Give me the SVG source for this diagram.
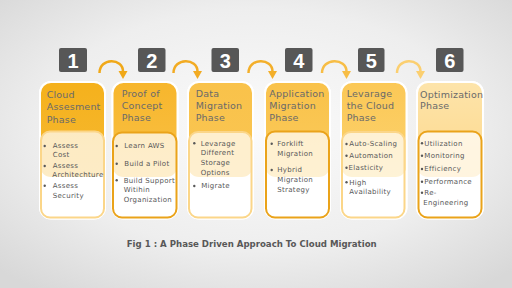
<svg xmlns="http://www.w3.org/2000/svg" width="512" height="288" viewBox="0 0 512 288">
<defs>
<radialGradient id="bg" cx="50%" cy="45%" r="70%">
<stop offset="0" stop-color="#fbfbfb"/>
<stop offset="0.6" stop-color="#eeeeee"/>
<stop offset="1" stop-color="#d8d8d8"/>
</radialGradient>
<linearGradient id="g1" x1="0" y1="0" x2="0" y2="1"><stop offset="0" stop-color="#f5b11c"/><stop offset="1" stop-color="#f6b932"/></linearGradient>
<linearGradient id="g2" x1="0" y1="0" x2="0" y2="1"><stop offset="0" stop-color="#f7b62c"/><stop offset="1" stop-color="#f9c146"/></linearGradient>
<linearGradient id="g3" x1="0" y1="0" x2="0" y2="1"><stop offset="0" stop-color="#f9c24a"/><stop offset="1" stop-color="#fac653"/></linearGradient>
<linearGradient id="g4" x1="0" y1="0" x2="0" y2="1"><stop offset="0" stop-color="#f9c24a"/><stop offset="1" stop-color="#fbcb5c"/></linearGradient>
<linearGradient id="g5" x1="0" y1="0" x2="0" y2="1"><stop offset="0" stop-color="#fbc856"/><stop offset="1" stop-color="#fcd26e"/></linearGradient>
<linearGradient id="g6" x1="0" y1="0" x2="0" y2="1"><stop offset="0" stop-color="#fde4aa"/><stop offset="1" stop-color="#fdd88c"/></linearGradient>
</defs>
<style>
.num{fill:#575757}
.numt{font-family:"Liberation Sans",Arial,sans-serif;font-weight:bold;font-size:20px;fill:#ffffff;text-anchor:middle}
.card{fill:#ffffff;stroke:#ffffff;stroke-width:2}
.edge{fill:none;stroke:#ffffff;stroke-width:2}
.inL{fill:#ffffff;fill-opacity:0.72;stroke:#fbd689;stroke-width:2}
.inD{fill:#ffffff;fill-opacity:0.72;stroke:#eaa31a;stroke-width:2}
.ttl{font-family:"DejaVu Sans","Liberation Sans",sans-serif;font-size:9.5px;letter-spacing:0.2px;fill:#6a6a6a}
.bl{font-family:"DejaVu Sans","Liberation Sans",sans-serif;font-size:7px;letter-spacing:0.3px;fill:#585858}
.dot{fill:#585858}
.arr{fill:none;stroke-width:2.5}
.cap{font-family:"DejaVu Sans","Liberation Sans",sans-serif;font-weight:bold;font-size:9.5px;fill:#585858}
</style>
<rect width="512" height="288" fill="url(#bg)"/>

<g id="connectors">
<path class="arr" stroke="#f0a818" d="M99.5 73 C99.5 57.5 123 57.5 123 71.5"/>
<polygon fill="#f0a818" points="118.5,71 127.5,71 123,79"/>
<path class="arr" stroke="#f2ab22" d="M173.5 73 C173.5 57.5 197.5 57.5 197.5 71.5"/>
<polygon fill="#f2ab22" points="193,71 202,71 197.5,79"/>
<path class="arr" stroke="#f3af2a" d="M248.5 73 C248.5 57.5 272.5 57.5 272.5 71.5"/>
<polygon fill="#f3af2a" points="268,71 277,71 272.5,79"/>
<path class="arr" stroke="#f7bd45" d="M322 73 C322 57.5 346.5 57.5 346.5 71.5"/>
<polygon fill="#f7bd45" points="342,71 351,71 346.5,79"/>
<path class="arr" stroke="#fbcf70" d="M397 73 C397 57.5 420.5 57.5 420.5 71.5"/>
<polygon fill="#fbcf70" points="416,71 425,71 420.5,79"/>
</g>

<g id="phase1">
<rect class="num" x="59" y="48" width="28" height="24" rx="2"/>
<text class="numt" x="73" y="68.3">1</text>
<rect class="card" x="40" y="82" width="65" height="136.5" rx="11"/>
<rect x="40" y="82" width="65" height="95" rx="11" fill="url(#g1)"/>
<rect class="edge" x="40" y="82" width="65" height="136.5" rx="11"/>
<rect class="inL" x="41" y="131.5" width="63" height="86" rx="9"/>
<text class="ttl" x="46.7" y="97.5">Cloud</text>
<text class="ttl" x="46.7" y="110">Assesment</text>
<text class="ttl" x="46.7" y="122.5">Phase</text>
<circle class="dot" cx="44.7" cy="146" r="1.2"/>
<circle class="dot" cx="44.7" cy="166" r="1.2"/>
<circle class="dot" cx="44.7" cy="185.7" r="1.2"/>
<text class="bl" x="52.7" y="148.4">Assess</text>
<text class="bl" x="52.7" y="157.4">Cost</text>
<text class="bl" x="52.7" y="168.4">Assess</text>
<text class="bl" x="52.3" y="177">Architechture</text>
<text class="bl" x="52.7" y="188">Assess</text>
<text class="bl" x="52.7" y="197.6">Security</text>
</g>

<g id="phase2">
<rect class="num" x="138" y="48" width="27.5" height="24" rx="2"/>
<text class="numt" x="151.8" y="68.3">2</text>
<rect class="card" x="112.5" y="82" width="65" height="136.5" rx="11"/>
<rect x="112.5" y="82" width="65" height="95" rx="11" fill="url(#g2)"/>
<rect class="edge" x="112.5" y="82" width="65" height="136.5" rx="11"/>
<rect class="inD" x="113" y="132.5" width="63.5" height="85" rx="9"/>
<text class="ttl" x="121.7" y="96.5">Proof of</text>
<text class="ttl" x="121.7" y="109.2">Concept</text>
<text class="ttl" x="121.7" y="121.2">Phase</text>
<circle class="dot" cx="116.7" cy="146" r="1.2"/>
<circle class="dot" cx="116.7" cy="163.7" r="1.2"/>
<circle class="dot" cx="116.7" cy="180.3" r="1.2"/>
<text class="bl" x="124.3" y="148.4">Learn AWS</text>
<text class="bl" x="124.3" y="166">Build a Pilot</text>
<text class="bl" x="123.7" y="182.6">Build Support</text>
<text class="bl" x="123.7" y="192.4">Witihin</text>
<text class="bl" x="123.7" y="202.4">Organization</text>
</g>

<g id="phase3">
<rect class="num" x="211.5" y="48" width="27.5" height="24" rx="2"/>
<text class="numt" x="225.3" y="68.3">3</text>
<rect class="card" x="188" y="82" width="65" height="136.5" rx="11"/>
<rect x="188" y="82" width="65" height="95" rx="11" fill="url(#g3)"/>
<rect class="edge" x="188" y="82" width="65" height="136.5" rx="11"/>
<rect class="inL" x="189" y="132" width="62.5" height="85.5" rx="9"/>
<text class="ttl" x="195.7" y="96.5">Data</text>
<text class="ttl" x="195.7" y="108.5">Migration</text>
<text class="ttl" x="195.7" y="120.8">Phase</text>
<circle class="dot" cx="194.3" cy="143.3" r="1.2"/>
<circle class="dot" cx="194.3" cy="186" r="1.2"/>
<text class="bl" x="200.7" y="145.6">Levarage</text>
<text class="bl" x="200.7" y="155.3">Different</text>
<text class="bl" x="200.7" y="165.3">Storage</text>
<text class="bl" x="200.7" y="175">Options</text>
<text class="bl" x="201.2" y="188.3">Migrate</text>
</g>

<g id="phase4">
<rect class="num" x="285" y="48" width="27.5" height="24" rx="2"/>
<text class="numt" x="298.8" y="68.3">4</text>
<rect class="card" x="265" y="82" width="65" height="136.5" rx="11"/>
<rect x="265" y="82" width="65" height="95" rx="11" fill="url(#g4)"/>
<rect class="edge" x="265" y="82" width="65" height="136.5" rx="11"/>
<rect class="inD" x="266" y="131.5" width="63" height="86" rx="9"/>
<text class="ttl" x="269.3" y="96.5">Application</text>
<text class="ttl" x="269.3" y="108.5">Migration</text>
<text class="ttl" x="269.3" y="120.8">Phase</text>
<circle class="dot" cx="271.7" cy="143.7" r="1.2"/>
<circle class="dot" cx="271.7" cy="170" r="1.2"/>
<text class="bl" x="277.3" y="146">Forklift</text>
<text class="bl" x="277.3" y="156">Migration</text>
<text class="bl" x="277.3" y="172.3">Hybrid</text>
<text class="bl" x="277.3" y="182">Migration</text>
<text class="bl" x="277.3" y="192">Strategy</text>
</g>

<g id="phase5">
<rect class="num" x="358" y="48" width="26.5" height="24" rx="2"/>
<text class="numt" x="371.3" y="68.3">5</text>
<rect class="card" x="341" y="82" width="65.5" height="136.5" rx="11"/>
<rect x="341" y="82" width="65.5" height="95" rx="11" fill="url(#g5)"/>
<rect class="edge" x="341" y="82" width="65.5" height="136.5" rx="11"/>
<rect class="inL" x="342" y="132" width="62.5" height="85.5" rx="9"/>
<text class="ttl" x="346.7" y="96.5">Levarage</text>
<text class="ttl" x="346.7" y="108.5">the Cloud</text>
<text class="ttl" x="346.7" y="120.8">Phase</text>
<circle class="dot" cx="346.5" cy="144" r="1.2"/>
<circle class="dot" cx="346.5" cy="155.7" r="1.2"/>
<circle class="dot" cx="346.5" cy="167.7" r="1.2"/>
<circle class="dot" cx="346.5" cy="182.3" r="1.2"/>
<text class="bl" x="349.3" y="146.3">Auto-Scaling</text>
<text class="bl" x="349.3" y="158">Automation</text>
<text class="bl" x="348.6" y="170">Elasticity</text>
<text class="bl" x="349.3" y="184.6">High</text>
<text class="bl" x="349.3" y="194.3">Availability</text>
</g>

<g id="phase6">
<rect class="num" x="436" y="48" width="27.5" height="24" rx="2"/>
<text class="numt" x="449.8" y="68.3">6</text>
<rect class="card" x="417" y="82" width="66" height="136.5" rx="11"/>
<rect x="417" y="82" width="66" height="95" rx="11" fill="url(#g6)"/>
<rect class="edge" x="417" y="82" width="66" height="136.5" rx="11"/>
<rect class="inD" x="418.5" y="131.5" width="63" height="86" rx="9"/>
<text class="ttl" x="420" y="98.2">Optimization</text>
<text class="ttl" x="420" y="109.2">Phase</text>
<circle class="dot" cx="422" cy="143.3" r="1.2"/>
<circle class="dot" cx="422" cy="155.7" r="1.2"/>
<circle class="dot" cx="422" cy="169" r="1.2"/>
<circle class="dot" cx="422" cy="181.7" r="1.2"/>
<circle class="dot" cx="422" cy="192.7" r="1.2"/>
<text class="bl" x="424.3" y="145.6">Utilization</text>
<text class="bl" x="424.3" y="158">Monitoring</text>
<text class="bl" x="424.3" y="171.3">Efficiency</text>
<text class="bl" x="424.3" y="184">Performance</text>
<text class="bl" x="424.3" y="195">Re-</text>
<text class="bl" x="423.3" y="205">Engineering</text>
</g>

<text class="cap" x="126.7" y="246.8" textLength="250" lengthAdjust="spacingAndGlyphs">Fig 1 : A Phase Driven Approach To Cloud Migration</text>
</svg>
